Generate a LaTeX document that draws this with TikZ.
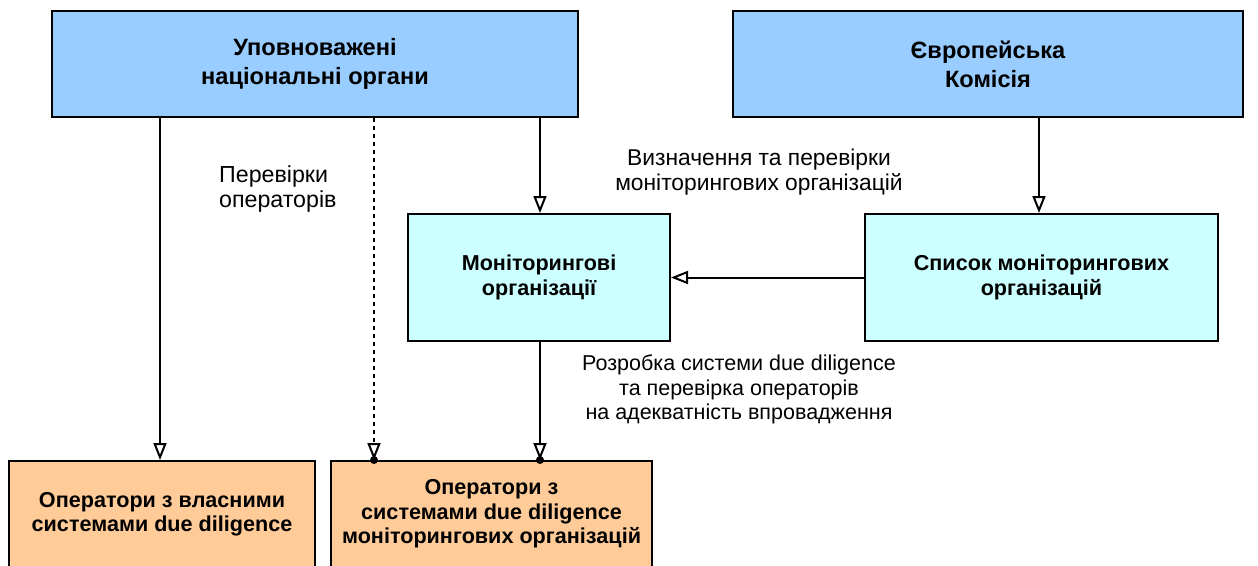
\documentclass[tikz,border=0pt]{standalone}
\usepackage{fontspec}
\setmainfont{Liberation Sans}
\usetikzlibrary{arrows.meta}
\definecolor{boxblue}{HTML}{99CCFF}
\definecolor{boxcyan}{HTML}{CCFFFF}
\definecolor{boxorange}{HTML}{FFCC99}
\begin{document}
\begin{tikzpicture}[x=1pt,y=-1pt,
  box/.style={draw=black, line width=2pt, inner sep=0pt, align=center,
    font=\fontsize{21.6}{24.5}\selectfont\bfseries},
  bigbox/.style={box, font=\fontsize{23.6}{29}\selectfont\bfseries},
  lbl/.style={inner sep=0pt, font=\fontsize{21.5}{24.2}\selectfont},
  conn/.style={line width=2pt, -{Triangle[open, length=17pt, width=13pt, line width=2pt]}},
  dotend/.style={circle, fill=black, inner sep=0pt, minimum size=8pt}
]
\useasboundingbox (0,0) rectangle (1258,565);
\fill[white] (0,0) rectangle (1258,565);

\node[bigbox, fill=boxblue, minimum width=526pt, minimum height=106pt] (natl) at (315,64)
  {Уповноважені\\національні органи};
\node[bigbox, fill=boxblue, minimum width=510pt, minimum height=106pt] (ec) at (988,64)
  {Європейська\\Комісія};
\node[box, fill=boxcyan, minimum width=262pt, minimum height=127pt] (mon) at (539,277.5)
  {Моніторингові\\організації};
\node[box, fill=boxcyan, minimum width=353pt, minimum height=127pt] (list) at (1041.5,277.5)
  {Список моніторингових\\організацій};
\node[box, fill=boxorange, minimum width=306pt, minimum height=106pt] (opown) at (162,514)
  {Оператори з власними\\системами due diligence};
\node[box, fill=boxorange, minimum width=321pt, minimum height=106pt] (opmon) at (491.5,514)
  {Оператори з\\системами due diligence\\моніторингових організацій};

\coordinate (xa) at (160,0);
\coordinate (xb) at (374,0);
\coordinate (xc) at (540,0);
\coordinate (xd) at (1039,0);

\draw[conn] (natl.south -| xa) -- (opown.north -| xa);
\draw[conn, dash pattern=on 4pt off 4pt] (natl.south -| xb) -- (opmon.north -| xb) node[dotend, pos=1]{};
\draw[conn] (natl.south -| xc) -- (mon.north -| xc);
\draw[conn] (ec.south -| xd) -- (list.north -| xd);
\draw[conn] (list.west) -- (mon.east);
\draw[conn] (mon.south -| xc) -- (opmon.north -| xc) node[dotend, pos=1]{};

\node[lbl, font=\fontsize{23.2}{25}\selectfont, align=left, anchor=north west] (l1) at (219,165) {Перевірки\\операторів};
\node[lbl, font=\fontsize{22.8}{24.5}\selectfont, align=center, anchor=north] (l2) at (759,149) {Визначення та перевірки\\моніторингових організацій};
\node[lbl, align=center, anchor=north] (l3) at (739,355) {Розробка системи due diligence\\та перевірка операторів\\на адекватність впровадження};
\end{tikzpicture}
\end{document}
